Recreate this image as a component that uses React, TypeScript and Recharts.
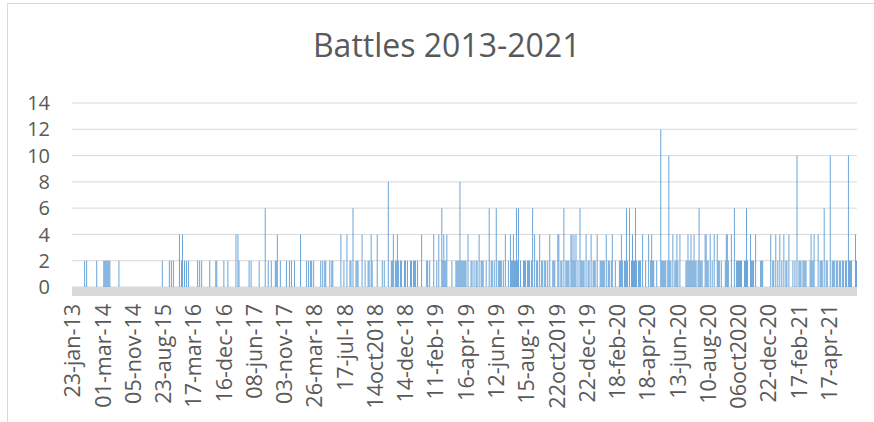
import React from "react";
import { BarChart, Bar, XAxis, YAxis, CartesianGrid } from "recharts";

// Category labels shown on the x axis (one every 30 categories)
const tickLabels = [
  "23-jan-13", "01-mar-14", "05-nov-14", "23-aug-15", "17-mar-16", "16-dec-16",
  "08-jun-17", "03-nov-17", "26-mar-18", "17-jul-18", "14oct2018", "14-dec-18",
  "11-feb-19", "16-apr-19", "12-jun-19", "15-aug-19", "22oct2019", "22-dec-19",
  "18-feb-20", "18-apr-20", "13-jun-20", "10-aug-20", "06oct2020", "22-dec-20",
  "17-feb-21", "17-apr-21",
];

// Battles per category, one block of 30 categories per axis label
const seg00 = [0,0,0,0,0,0,0,0,0,0, 0,0,2,0,2,0,0,0,0,0, 0,0,0,0,2,0,0,0,0,0];
const seg01 = [0,2,2,2,2,2,2,2,0,0, 0,0,0,0,0,0,2,0,0,0, 0,0,0,0,0,0,0,0,0,0];
const seg02 = [0,0,0,0,0,0,0,0,0,0, 0,0,0,0,0,0,0,0,0,0, 0,0,0,0,0,0,0,0,0,2];
const seg03 = [0,0,0,0,0,0,2,0,2,0, 2,0,0,0,0,0,4,0,2,4, 0,2,0,2,0,2,0,0,0,0];
const seg04 = [0,0,0,0,2,0,2,0,2,0, 0,0,0,0,0,0,2,0,0,0, 0,0,2,2,0,0,0,0,0,0];
const seg05 = [2,0,0,0,2,0,0,0,0,0, 0,0,4,0,4,2,0,0,0,0, 0,0,0,0,0,2,0,2,0,0];
const seg06 = [0,0,0,0,0,2,0,0,0,0, 0,6,0,0,2,0,0,2,0,0, 0,2,2,4,0,0,2,0,0,0];
const seg07 = [0,0,2,0,0,2,0,2,0,0, 2,0,0,0,0,0,4,0,0,0, 0,0,2,0,2,0,2,2,0,2];
const seg08 = [0,0,0,0,0,0,2,0,2,0, 2,2,0,0,0,2,0,2,2,0, 0,0,0,0,0,0,4,0,0,2];
const seg09 = [0,0,4,0,0,2,2,0,6,0, 0,2,2,2,0,0,0,4,0,0, 2,0,0,2,2,0,4,2,0,0];
const seg10 = [0,0,4,0,0,0,0,2,0,2, 0,0,0,8,0,0,2,2,4,0, 2,2,4,2,0,2,2,0,0,2];
const seg11 = [2,0,2,0,0,2,2,0,2,2, 2,0,2,0,0,0,4,0,0,0, 0,2,2,0,2,0,0,0,4,0];
const seg12 = [0,2,0,4,0,0,6,2,4,2, 2,4,0,0,0,0,2,0,0,0, 2,2,2,2,8,2,2,2,2,2];
const seg13 = [2,0,4,0,0,2,2,0,2,0, 2,2,0,4,0,2,2,2,0,0, 2,0,0,6,0,2,2,0,2,0];
const seg14 = [6,0,2,2,2,2,0,2,0,4, 0,0,2,0,4,2,2,4,2,2, 6,2,6,0,2,0,0,2,2,2];
const seg15 = [0,2,2,2,0,2,6,0,4,0, 2,2,0,4,0,2,2,0,2,2, 0,2,0,4,0,0,2,2,2,0];
const seg16 = [0,4,4,0,2,2,0,6,0,2, 2,2,2,0,4,4,2,4,2,4, 0,2,0,6,2,2,2,2,0,4];
const seg17 = [0,2,2,0,4,0,2,2,2,0, 4,0,0,2,2,2,2,2,0,4, 0,2,2,0,2,4,0,0,2,0];
const seg18 = [0,0,2,2,4,2,0,2,2,6, 2,0,6,0,2,4,2,2,6,2, 0,2,2,2,0,4,0,0,2,0];
const seg19 = [0,4,0,2,4,2,2,0,0,2, 0,0,0,12,2,2,2,2,2,0, 2,10,2,2,0,4,0,2,2,4];
const seg20 = [2,0,4,0,0,0,0,0,2,2, 4,2,2,4,2,2,4,2,2,0, 2,6,2,2,2,0,0,4,4,2];
const seg21 = [2,0,4,0,2,0,4,0,0,4, 2,2,0,2,0,0,0,2,4,4, 2,0,0,4,0,0,6,0,2,2];
const seg22 = [2,2,2,2,0,0,2,2,6,2, 0,0,4,2,2,2,0,4,0,0, 0,0,2,2,2,0,0,0,0,0];
const seg23 = [0,0,4,0,2,2,0,4,0,2, 0,4,0,2,0,4,0,2,2,0, 4,0,0,0,2,0,2,0,10,0];
const seg24 = [2,2,2,0,2,2,2,2,0,0, 0,2,4,2,2,4,0,0,0,4, 0,2,2,2,0,6,0,2,2,0];
const seg25 = [0,10,0,2,2,2,0,2,2,0, 2,2,0,2,2,0,2,2,0,10, 2,2,2,0,0,0,4,2];

const yTicks = [0, 2, 4, 6, 8, 10, 12, 14];

const segments = [
  seg00, seg01, seg02, seg03, seg04, seg05, seg06, seg07, seg08, seg09,
  seg10, seg11, seg12, seg13, seg14, seg15, seg16, seg17, seg18, seg19,
  seg20, seg21, seg22, seg23, seg24, seg25,
];

const data = segments.flatMap((seg, s) =>
  seg.map((v, j) => ({
    i: s * 30 + j,
    label: j === 0 ? tickLabels[s] : "",
    battles: v,
  }))
);

const FONT = "'Open Sans', 'DejaVu Sans', sans-serif";
const TEXT = "#595959";

const XTick = (props: any) => {
  const { x, y, payload } = props;
  const row = data[payload.value];
  const label = row ? row.label : "";
  return (
    <g transform={`translate(${x},${y})`}>
      <text
        transform="rotate(-90)"
        x={-11}
        y={0}
        dy="0.36em"
        textAnchor="end"
        fill={TEXT}
        fontSize={21.5}
        fontFamily={FONT}
      >
        {label}
      </text>
    </g>
  );
};

const YTick = (props: any) => {
  const { y, payload } = props;
  return (
    <text
      x={50}
      y={y}
      dy="0.36em"
      textAnchor="end"
      fill={TEXT}
      fontSize={20}
      fontFamily={FONT}
    >
      {payload.value}
    </text>
  );
};

export default function App() {
  return (
    <div
      style={{
        position: "absolute",
        left: 0,
        top: 0,
        width: 874,
        height: 422,
        background: "#fff",
        overflow: "hidden",
        fontFamily: FONT,
      }}
    >
      <div
        style={{
          position: "absolute",
          left: 7,
          top: 3,
          width: 900,
          height: 450,
          borderLeft: "1px solid #D9D9D9",
          borderTop: "1px solid #D9D9D9",
        }}
      />
      <div style={{ position: "absolute", left: 0, top: 0 }}>
        <BarChart
          width={874}
          height={422}
          data={data}
          margin={{ top: 103, right: 17, bottom: 0, left: 0 }}
          barCategoryGap={0}
          barGap={0}
        >
          <CartesianGrid vertical={false} stroke="#D9D9D9" strokeWidth={1} />
          <YAxis
            domain={[0, 14]}
            ticks={yTicks}
            width={72}
            axisLine={false}
            tickLine={false}
            interval={0}
            tick={<YTick />}
          />
          <XAxis
            dataKey="i"
            type="category"
            height={135}
            interval={29}
            tickLine={false}
            tickMargin={0}
            axisLine={{ stroke: "#D9D9D9", strokeWidth: 9, transform: "translate(0 4.5)" }}
            tick={<XTick />}
          />
          <Bar dataKey="battles" fill="#5B9BD5" fillOpacity={0.9} isAnimationActive={false} />
        </BarChart>
      </div>
      <svg
        width={874}
        height={80}
        style={{ position: "absolute", left: 0, top: 0 }}
      >
        <text
          x={446.7}
          y={57}
          textAnchor="middle"
          fill={TEXT}
          fontSize={32}
          fontFamily={FONT}
        >
          Battles 2013-2021
        </text>
      </svg>
    </div>
  );
}
